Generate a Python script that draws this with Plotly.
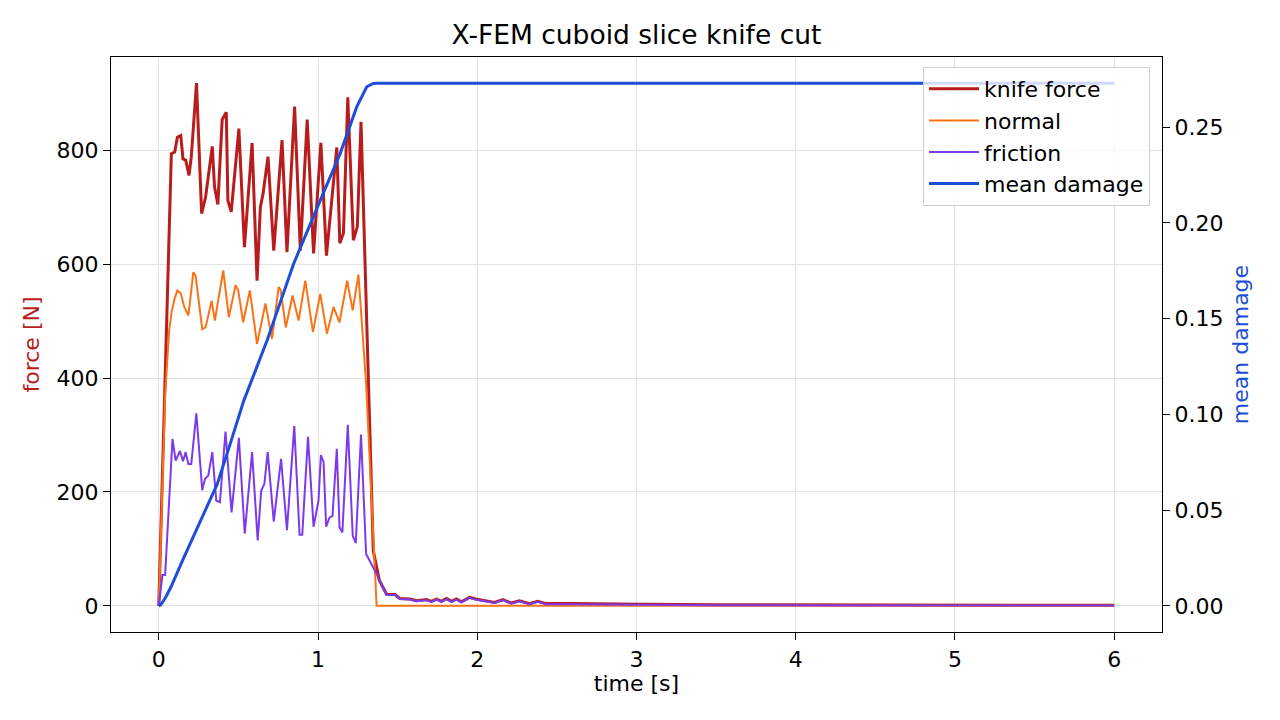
import plotly.graph_objects as go

# ---- data ----
t_knife = [0.0, 0.079, 0.100, 0.117, 0.138, 0.152, 0.169, 0.190, 0.204, 0.237, 0.269, 0.294,
           0.336, 0.350, 0.371, 0.398, 0.424, 0.434, 0.455, 0.503, 0.538, 0.586, 0.617, 0.638,
           0.655, 0.686, 0.722, 0.774, 0.805, 0.853, 0.889, 0.932, 0.972, 1.018, 1.053, 1.118,
           1.137, 1.160, 1.187, 1.222, 1.247, 1.270, 1.347, 1.385, 1.431, 1.483, 1.514, 1.577,
           1.619, 1.681, 1.712, 1.744, 1.775, 1.807, 1.838, 1.869, 1.900, 1.952, 1.990, 2.036,
           2.109, 2.161, 2.213, 2.265, 2.328, 2.380, 2.432, 2.600, 2.800, 3.020, 3.500, 4.000,
           5.000, 6.000]
knife_force = [0, 794, 797, 823, 826, 785, 783, 756, 788, 918, 689, 718,
               807, 736, 705, 854, 867, 712, 692, 838, 630, 813, 571, 700,
               724, 789, 624, 818, 621, 877, 624, 854, 619, 813, 615, 805,
               637, 655, 893, 642, 666, 850, 97, 45, 20, 20, 13, 12,
               9, 11, 8, 12, 8, 13, 8, 12, 7, 15, 12, 10,
               6, 11, 5, 9, 4, 8, 4, 4, 3, 3, 2, 2,
               1, 1]

t_normal = [0.0, 0.020, 0.040, 0.065, 0.080, 0.100, 0.117, 0.138, 0.160, 0.186, 0.217, 0.231,
            0.273, 0.294, 0.332, 0.352, 0.405, 0.440, 0.482, 0.499, 0.530, 0.572, 0.617, 0.670,
            0.711, 0.753, 0.765, 0.798, 0.840, 0.878, 0.920, 0.968, 1.014, 1.056, 1.097, 1.135,
            1.183, 1.218, 1.254, 1.302, 1.368, 6.000]
normal = [0, 190, 370, 483, 515, 540, 554, 549, 525, 510, 586, 580,
          486, 489, 536, 501, 589, 507, 563, 554, 498, 554, 460, 531,
          469, 560, 555, 489, 545, 501, 571, 481, 548, 478, 525, 498,
          571, 519, 582, 390, 0, 0]

t_friction = [0.0, 0.023, 0.040, 0.086, 0.106, 0.133, 0.152, 0.169, 0.186, 0.204, 0.236, 0.273,
              0.290, 0.311, 0.336, 0.361, 0.384, 0.419, 0.457, 0.503, 0.540, 0.586, 0.621, 0.643,
              0.663, 0.684, 0.722, 0.768, 0.805, 0.851, 0.884, 0.901, 0.937, 0.972, 1.003, 1.018,
              1.035, 1.051, 1.072, 1.091, 1.118, 1.135, 1.153, 1.187, 1.218, 1.237, 1.270, 1.302,
              1.368, 1.385, 1.431, 1.483, 1.514, 1.577, 1.619, 1.681, 1.712, 1.744, 1.775, 1.807,
              1.838, 1.869, 1.900, 1.952, 1.990, 2.036, 2.109, 2.161, 2.213, 2.265, 2.328, 2.380,
              2.432, 2.600, 2.800, 3.020, 3.500, 4.000, 5.000, 6.000]
friction = [0, 54, 54, 293, 255, 272, 254, 270, 249, 249, 338, 203,
            223, 229, 270, 185, 182, 306, 164, 295, 127, 270, 115, 202,
            214, 270, 148, 258, 133, 316, 125, 125, 297, 139, 185, 265,
            252, 139, 155, 158, 276, 138, 129, 318, 123, 110, 301, 91,
            56, 44, 19, 19, 12, 11, 8, 10, 7, 11, 7, 12,
            7, 11, 6, 14, 11, 9, 5, 10, 4, 8, 3, 7,
            3, 3, 2, 2, 1, 1, 0.5, 0.5]

t_damage = [0.0, 0.0125, 0.040, 0.075, 0.158, 0.263, 0.367, 0.450, 0.534, 0.680, 0.847, 1.014,
            1.139, 1.243, 1.306, 1.347, 1.370, 6.000]
mean_damage = [0.0, 0.0005, 0.0040, 0.0096, 0.0253, 0.0445, 0.0636, 0.0850, 0.1072, 0.1386,
               0.1787, 0.2118, 0.2362, 0.2606, 0.2711, 0.2728, 0.2730, 0.2730]

x_ticks = [0, 1, 2, 3, 4, 5, 6]
y_ticks = [0, 200, 400, 600, 800]
y2_ticks = [0.00, 0.05, 0.10, 0.15, 0.20, 0.25]

# ---- styling ----
C_KNIFE = "#b91c1c"
C_NORMAL = "#f97316"
C_FRICTION = "#7c3aed"
C_DAMAGE = "#1d4ed8"
FONT = "DejaVu Sans"
FS = 22
FS_TITLE = 26.5


def padded(lo, hi, frac=0.05):
    span = hi - lo
    return [lo - frac * span, hi + frac * span]


all_t = t_knife + t_normal + t_friction + t_damage
force_all = knife_force + normal + friction
x_range = padded(min(all_t), max(all_t))
y_range = padded(min(force_all), max(force_all))
y2_range = padded(min(mean_damage), max(mean_damage))

fig = go.Figure()
fig.add_trace(go.Scatter(x=t_knife, y=knife_force, mode="lines", name="knife force",
                         line=dict(color=C_KNIFE, width=3)))
fig.add_trace(go.Scatter(x=t_normal, y=normal, mode="lines", name="normal",
                         line=dict(color=C_NORMAL, width=2)))
fig.add_trace(go.Scatter(x=t_friction, y=friction, mode="lines", name="friction",
                         line=dict(color=C_FRICTION, width=2)))
fig.add_trace(go.Scatter(x=t_damage, y=mean_damage, mode="lines", name="mean damage",
                         line=dict(color=C_DAMAGE, width=3), yaxis="y2"))

axis_common = dict(
    showline=True, linecolor="black", linewidth=1.2,
    ticks="outside", ticklen=7, tickwidth=1.2, tickcolor="black",
    tickfont=dict(family=FONT, size=FS, color="black"),
    zeroline=False,
)

fig.update_layout(
    width=1280, height=720,
    margin=dict(l=111, r=118, t=57, b=88),
    paper_bgcolor="white", plot_bgcolor="white",
    font=dict(family=FONT, size=FS, color="black"),
    title=dict(text="X-FEM cuboid slice knife cut", x=0.5, xref="paper", xanchor="center",
               y=1 - 35 / 720, yref="container", yanchor="middle",
               font=dict(family=FONT, size=FS_TITLE, color="black")),
    xaxis=dict(range=x_range, tickvals=x_ticks, ticktext=[str(v) for v in x_ticks],
               showgrid=True, gridcolor="#e2e2e2", gridwidth=1, mirror=True,
               title=dict(text="time [s]", font=dict(family=FONT, size=FS, color="black"),
                          standoff=5),
               **axis_common),
    yaxis=dict(range=y_range, tickvals=y_ticks, ticktext=[str(v) for v in y_ticks],
               showgrid=True, gridcolor="#e2e2e2", gridwidth=1,
               title=dict(text="force [N]", font=dict(family=FONT, size=FS, color=C_KNIFE),
                          standoff=10),
               **axis_common),
    yaxis2=dict(range=y2_range, tickvals=y2_ticks, ticktext=[f"{v:.2f}" for v in y2_ticks],
                overlaying="y", side="right", showgrid=False,
                title=dict(text="mean damage", font=dict(family=FONT, size=FS, color=C_DAMAGE),
                           standoff=10),
                **axis_common),
    legend=dict(x=(1150 - 111) / 1051, xanchor="right", y=(632 - 67) / 575, yanchor="top",
                bgcolor="rgba(255,255,255,0.8)", bordercolor="#d0d0d0", borderwidth=1,
                font=dict(family=FONT, size=FS, color="black"), tracegroupgap=0,
                itemwidth=50),
    showlegend=True,
)

fig.write_html("out.html")
